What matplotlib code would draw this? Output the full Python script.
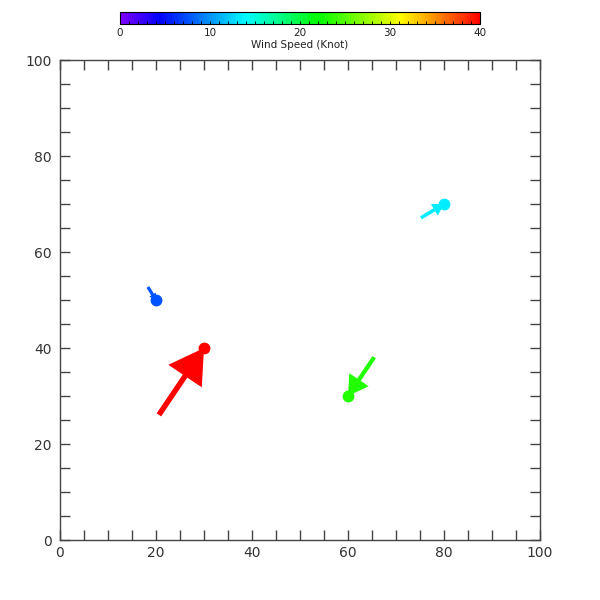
import numpy as np
import matplotlib
matplotlib.use('Agg')
import matplotlib.pyplot as plt
from matplotlib.colors import LinearSegmentedColormap, Normalize
from matplotlib.ticker import MultipleLocator
import matplotlib.cm as cm

# station positions and wind (speed in knots, direction of travel in degrees)
stn_x = [30, 60, 80, 20]
stn_y = [40, 30, 70, 50]
speed = [40.0, 23.2, 13.3, 7.6]
direction = [56, 236, 31, 302]

# colormap: violet -> blue -> cyan -> green -> yellow -> red
cmap = LinearSegmentedColormap.from_list('wind', [
    (0.00, (0.5, 0.0, 1.0)),
    (0.11, (0.0, 0.0, 1.0)),
    (0.35, (0.0, 1.0, 1.0)),
    (0.55, (0.0, 1.0, 0.0)),
    (0.78, (1.0, 1.0, 0.0)),
    (1.00, (1.0, 0.0, 0.0)),
])
norm = Normalize(0, 40)
k = 0.42  # data units per knot

fig = plt.figure(figsize=(6, 6), dpi=100)
ax = fig.add_axes([0.1, 0.1, 0.8, 0.8])

for x, y, s, d in zip(stn_x, stn_y, speed, direction):
    col = cmap(norm(s))
    L = k * s
    dx = L * np.cos(np.radians(d))
    dy = L * np.sin(np.radians(d))
    ax.arrow(x - dx, y - dy, dx, dy, width=0.55 + 0.035 * L,
             head_width=0.5 * L, head_length=0.42 * L,
             length_includes_head=True, color=col, lw=0, zorder=2)
    ax.plot(x, y, 'o', color=col, ms=7.5, zorder=3)

ax.set_xlim(0, 100)
ax.set_ylim(0, 100)
ax.xaxis.set_major_locator(MultipleLocator(20))
ax.yaxis.set_major_locator(MultipleLocator(20))
ax.xaxis.set_minor_locator(MultipleLocator(5))
ax.yaxis.set_minor_locator(MultipleLocator(5))
ax.tick_params(which='both', direction='in', top=True, right=True,
               length=7.2, width=1, color='#444444')
ax.tick_params(axis='y', which='major', pad=6, labelsize=10, labelcolor='#333333')
ax.tick_params(axis='x', which='major', pad=4, labelsize=10, labelcolor='#333333')
for sp in ax.spines.values():
    sp.set_color('#444444')
    sp.set_linewidth(1)

# colorbar at the top
cax = fig.add_axes([0.2, 0.96, 0.6, 0.02])
sm = cm.ScalarMappable(norm=norm, cmap=cmap)
cb = fig.colorbar(sm, cax=cax, orientation='horizontal')
cb.set_ticks([0, 10, 20, 30, 40])
cb.ax.xaxis.set_minor_locator(MultipleLocator(1))
cb.ax.tick_params(which='both', direction='in', labelsize=7.5, length=2,
                  width=0.6, pad=3, labelcolor='#222222')
cb.outline.set_linewidth(0.8)
cb.set_label('Wind Speed (Knot)', fontsize=7.5, labelpad=1, color='#222222')

plt.savefig('out.png', dpi=100)
